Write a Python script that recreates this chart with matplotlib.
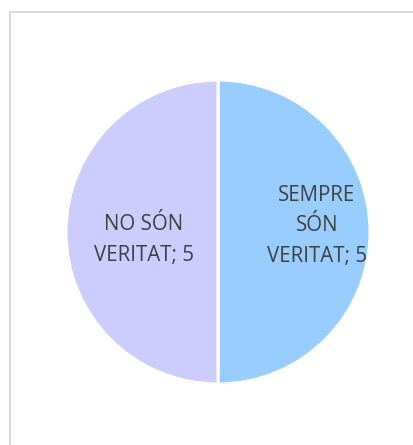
import matplotlib
matplotlib.use("Agg")
import matplotlib.pyplot as plt
from matplotlib.patches import Rectangle
import numpy as np

categories = ["SEMPRE\nSÓN\nVERITAT", "NO SÓN\nVERITAT"]
values = [5, 5]
colors = ["#99CCFF", "#CCCCFF"]
label_dist = [0.65, 0.49]
label_dy = [0.04, -0.05]

W, H = 414, 445
fig = plt.figure(figsize=(W / 100, H / 100), dpi=100)
fig.patch.set_facecolor("white")

# chart border (extends past the right/bottom edge)
fig.patches.append(Rectangle((9.5 / W, -0.1), 1.2, (H - 12.5) / H + 0.1,
                             transform=fig.transFigure, fill=False,
                             edgecolor="#D9D9D9", linewidth=1.5))

cx, cy, r = 218, 232, 152
ax = fig.add_axes([(cx - r) / W, (H - cy - r) / H, 2 * r / W, 2 * r / H])
labels = [f"{c}; {v}" for c, v in zip(categories, values)]
wedges, texts = ax.pie(values, colors=colors, startangle=90, counterclock=False,
                       labels=labels, labeldistance=0.6,
                       wedgeprops=dict(edgecolor="white", linewidth=2.2),
                       textprops=dict(color="#404040", fontsize=14.8,
                                      family="Open Sans", ha="center",
                                      va="center", multialignment="center",
                                      linespacing=1.62))
for w, t, d, dy in zip(wedges, texts, label_dist, label_dy):
    ang = np.deg2rad((w.theta1 + w.theta2) / 2)
    t.set_position((d * np.cos(ang), d * np.sin(ang) + dy))
    t.set_ha("center")
ax.set_xlim(-1, 1)
ax.set_ylim(-1, 1)
ax.set_aspect("auto")

fig.savefig("out.png", dpi=100)
